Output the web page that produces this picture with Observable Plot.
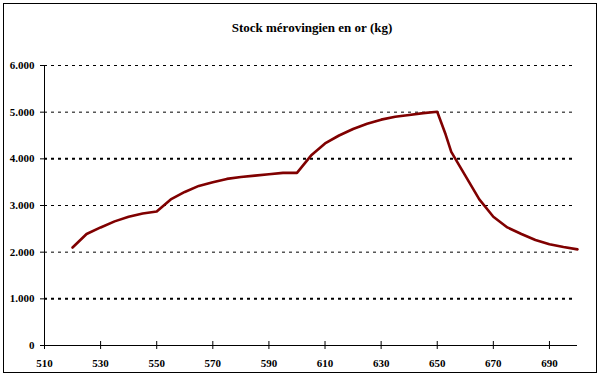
<!DOCTYPE html>
<html>
<head>
<meta charset="utf-8">
<script src="https://cdn.jsdelivr.net/npm/d3@7"></script>
<script src="https://cdn.jsdelivr.net/npm/@observablehq/plot@0.6"></script>
<style>
  html, body { margin: 0; padding: 0; background: #fff; }
  #wrap { position: relative; width: 603px; height: 378px; overflow: hidden; }
  #border { position: absolute; left: 3px; top: 3px; width: 592px; height: 368px; border: 1.5px solid #000; }
  #title { position: absolute; left: 0; width: 624px; top: 20px; text-align: center;
           font-family: "Liberation Serif", "Times New Roman", serif; font-weight: bold; font-size: 13px; color: #000; }
  #chart { position: absolute; left: 0; top: 0; }
</style>
</head>
<body>
<div id="wrap">
  <div id="border"></div>
  <div id="title">Stock mérovingien en or (kg)</div>
  <div id="chart"></div>
</div>
<script>
const title = "Stock mérovingien en or (kg)";
const years = [520,525,530,535,540,545,550,555,560,565,570,575,580,585,590,595,600,
               605,610,615,620,625,630,635,640,645,650,653,655,660,665,670,675,680,685,690,695,700];
const stock = [2100,2390,2530,2660,2760,2830,2870,3130,3290,3420,3500,3570,3610,3640,3670,3700,3700,
               4070,4330,4500,4640,4750,4840,4900,4940,4980,5010,4520,4150,3640,3130,2760,2530,2390,2260,2170,2110,2060];
const xTicks = [510,530,550,570,590,610,630,650,670,690];
const yTicks = [0,1000,2000,3000,4000,5000,6000];
const gridBold = [1000,4000];
const gridThin = [2000,3000,5000,6000];

const data = years.map((y, i) => ({year: y, stock: stock[i]}));
const fmt = d3.formatLocale({thousands: ".", grouping: [3], decimal: ","}).format(",");
const font = "Liberation Serif, Times New Roman, serif";

const chart = Plot.plot({
  width: 603,
  height: 378,
  marginLeft: 44,
  marginRight: 26,
  marginTop: 65,
  marginBottom: 33,
  style: {fontFamily: font, fontSize: "11px", fontWeight: "bold", color: "#000", background: "transparent", overflow: "visible"},
  x: {domain: [510, 700], ticks: xTicks},
  y: {domain: [0, 6000], ticks: yTicks},
  marks: [
    Plot.ruleY(gridThin, {x1: 510, x2: 698.5, stroke: "#000", strokeWidth: 1, strokeDasharray: "3,4"}),
    Plot.ruleY(gridBold, {x1: 510, x2: 698.5, stroke: "#000", strokeWidth: 2, strokeDasharray: "3,4"}),
    Plot.ruleX([510], {y1: 0, y2: 6000, stroke: "#000", strokeWidth: 1}),
    Plot.ruleY([0], {x1: 510, x2: 700, stroke: "#000", strokeWidth: 1}),
    Plot.axisY({ticks: yTicks, tickSize: 4, tickPadding: 6, tickFormat: fmt, label: null, strokeWidth: 1}),
    Plot.axisX({ticks: xTicks, tickSize: 8, dy: -4, text: null, label: null}),
    Plot.axisX({ticks: xTicks, tickSize: 0, tickPadding: 14, tickFormat: d => String(d), label: null}),
    Plot.line(data, {x: "year", y: "stock", stroke: "#800000", strokeWidth: 2.6, strokeLinejoin: "round"})
  ]
});
document.getElementById("chart").appendChild(chart);
</script>
</body>
</html>
